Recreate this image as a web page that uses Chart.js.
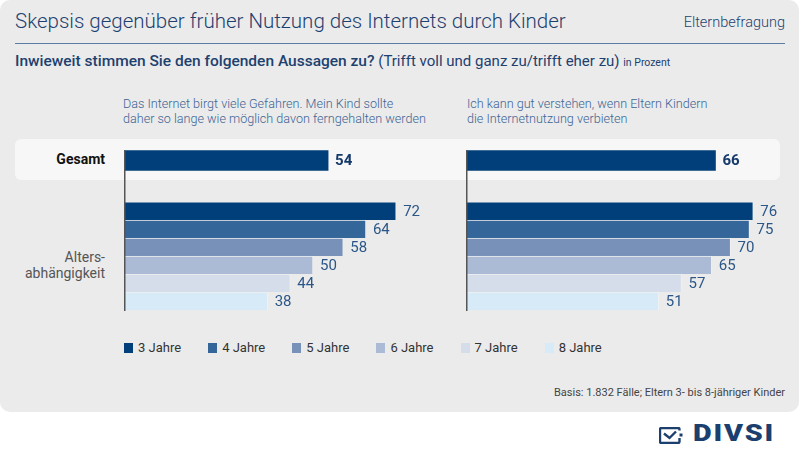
<!DOCTYPE html>
<html>
<head>
<meta charset="utf-8">
<script src="https://cdn.jsdelivr.net/npm/chart.js@4"></script>
<style>
  body { margin: 0; background: #fff; font-family: Roboto, "DejaVu Sans", sans-serif; }
  #page { position: relative; width: 800px; height: 463px; overflow: hidden; }
  #panel { position: absolute; left: 0; top: 0; width: 799px; height: 412px; background: #ebebeb; border-radius: 10px; }
  .abs { position: absolute; white-space: nowrap; }
  #title { left: 15px; top: 9px; font-size: 20.5px; font-weight: 300; color: #1d416f; }
  #tag { right: 15px; top: 14px; font-size: 14.5px; font-weight: 300; color: #1d416f; }
  #rule { left: 15px; top: 43px; width: 770px; height: 0; border-top: 1.5px solid #5b7da3; }
  #sub { left: 15px; top: 52px; font-size: 15px; color: #1d416f; }
  #sub b { font-weight: 500; font-size: 15.5px; }
  #sub small { font-size: 10.5px; }
  .head { top: 96px; font-size: 12.6px; line-height: 15px; color: #3d6494; font-weight: 300; }
  #band { left: 15px; top: 139px; width: 765px; height: 41px; background: #f7f7f7; border-radius: 6px; }
  #gesamt { right: 695px; top: 151px; font-size: 14px; font-weight: 700; color: #111; }
  #alter { right: 695px; top: 249px; font-size: 14px; line-height: 16px; color: #555; text-align: right; }
  .wrap { position: absolute; top: 150px; width: 378px; height: 161px; }
  #legend { left: 124px; top: 340px; display: flex; gap: 27px; font-size: 13px; color: #333; }
  #legend span.sw { display: inline-block; width: 9px; height: 10px; margin-right: 5px; vertical-align: -1px; }
  #basis { right: 15px; top: 386px; font-size: 11px; color: #444; }
  #logo { left: 659px; top: 421px; width: 130px; height: 30px; }
  #logo svg { position: absolute; left: 0; top: 6px; }
  #logo span { position: absolute; left: 34px; top: -2px; font-size: 24px; font-weight: 900; color: #1b3f6e; letter-spacing: 1.5px; transform: scaleX(1.2); transform-origin: left center; }
</style>
</head>
<body>
<div id="page">
  <div id="panel"></div>
  <div class="abs" id="title">Skepsis gegenüber früher Nutzung des Internets durch Kinder</div>
  <div class="abs" id="tag">Elternbefragung</div>
  <div class="abs" id="rule"></div>
  <div class="abs" id="sub"><b>Inwieweit stimmen Sie den folgenden Aussagen zu?</b> (Trifft voll und ganz zu/trifft eher zu) <small>in Prozent</small></div>
  <div class="abs head" style="left:123px">Das Internet birgt viele Gefahren. Mein Kind sollte<br>daher so lange wie möglich davon ferngehalten werden</div>
  <div class="abs head" style="left:467px">Ich kann gut verstehen, wenn Eltern Kindern<br>die Internetnutzung verbieten</div>
  <div class="abs" id="band"></div>
  <div class="abs" id="gesamt">Gesamt</div>
  <div class="abs" id="alter">Alters-<br>abhängigkeit</div>
  <div class="wrap" style="left:124px"><canvas id="links"></canvas></div>
  <div class="wrap" style="left:466px"><canvas id="rechts"></canvas></div>
  <div class="abs" id="legend"></div>
  <div class="abs" id="basis">Basis: 1.832 Fälle; Eltern 3- bis 8-jähriger Kinder</div>
  <div class="abs" id="logo">
    <svg width="24" height="17" viewBox="0 0 24 17"><path d="M20.5 3.5V2.4A1.4 1.4 0 0 0 19.1 1H2.4A1.4 1.4 0 0 0 1 2.4v12.2A1.4 1.4 0 0 0 2.4 16h16.7a1.4 1.4 0 0 0 1.4-1.4V11" fill="none" stroke="#1b3f6e" stroke-width="2.4"/><path d="M5 6.5l5.5 4.5L17 4.5" fill="none" stroke="#1b3f6e" stroke-width="2.4"/><rect x="20.5" y="6.5" width="3" height="3" fill="#1b3f6e"/></svg>
    <span>DIVSI</span>
  </div>
</div>
<script>
const gruppen = ['3 Jahre', '4 Jahre', '5 Jahre', '6 Jahre', '7 Jahre', '8 Jahre'];
const farben = ['#003f79', '#346699', '#7891b8', '#abbad5', '#d5dcea', '#d7eaf8'];
const gesamtGefahren = 54;
const alterGefahren = [72, 64, 58, 50, 44, 38];
const gesamtVerstehen = 66;
const alterVerstehen = [76, 75, 70, 65, 57, 51];

// row layout (in bar rows): gesamt at 0, age groups start after a gap
const GAP = 2.8;

const valueLabels = {
  id: 'valueLabels',
  afterDatasetsDraw(chart) {
    const ctx = chart.ctx;
    const area = chart.chartArea;
    const x0 = chart.scales.x.getPixelForValue(0);
    ctx.save();
    ctx.strokeStyle = '#555';
    ctx.lineWidth = 1.5;
    ctx.beginPath();
    ctx.moveTo(x0 + 0.75, area.top);
    ctx.lineTo(x0 + 0.75, area.bottom);
    ctx.stroke();
    ctx.textBaseline = 'middle';
    chart.data.datasets.forEach((ds, di) => {
      chart.getDatasetMeta(di).data.forEach((bar, i) => {
        ctx.font = di === 0 ? '700 15px Roboto' : '400 15px Roboto';
        ctx.fillStyle = di === 0 ? '#15396a' : '#2b5788';
        ctx.fillText(ds.data[i].x, bar.x + 7, bar.y + 1);
      });
    });
    ctx.restore();
  }
};

function makeChart(id, gesamt, alter) {
  new Chart(document.getElementById(id), {
    type: 'bar',
    data: {
      datasets: [{
        data: [{ x: gesamt, y: 0 }],
        backgroundColor: farben[0],
        barThickness: 20,
        grouped: false
      }, {
        data: alter.map((v, i) => ({ x: v, y: GAP + i })),
        backgroundColor: farben,
        borderColor: 'rgba(255,255,255,0.3)',
        borderWidth: { top: 1, bottom: 0, left: 0, right: 1 },
        borderSkipped: 'left',
        barThickness: 18,
        grouped: false
      }]
    },
    options: {
      indexAxis: 'y',
      responsive: true,
      maintainAspectRatio: false,
      animation: false,
      layout: { padding: 0 },
      scales: {
        x: { type: 'linear', min: 0, max: 100, display: false },
        y: { type: 'linear', reverse: true, offset: false, min: -0.58, max: GAP + 5.55, display: false }
      },
      plugins: { legend: { display: false }, tooltip: { enabled: false } }
    },
    plugins: [valueLabels]
  });
}

makeChart('links', gesamtGefahren, alterGefahren);
makeChart('rechts', gesamtVerstehen, alterVerstehen);

const legend = document.getElementById('legend');
gruppen.forEach((g, i) => {
  const item = document.createElement('div');
  item.innerHTML = `<span class="sw" style="background:${farben[i]}"></span>${g}`;
  legend.appendChild(item);
});
</script>
</body>
</html>
